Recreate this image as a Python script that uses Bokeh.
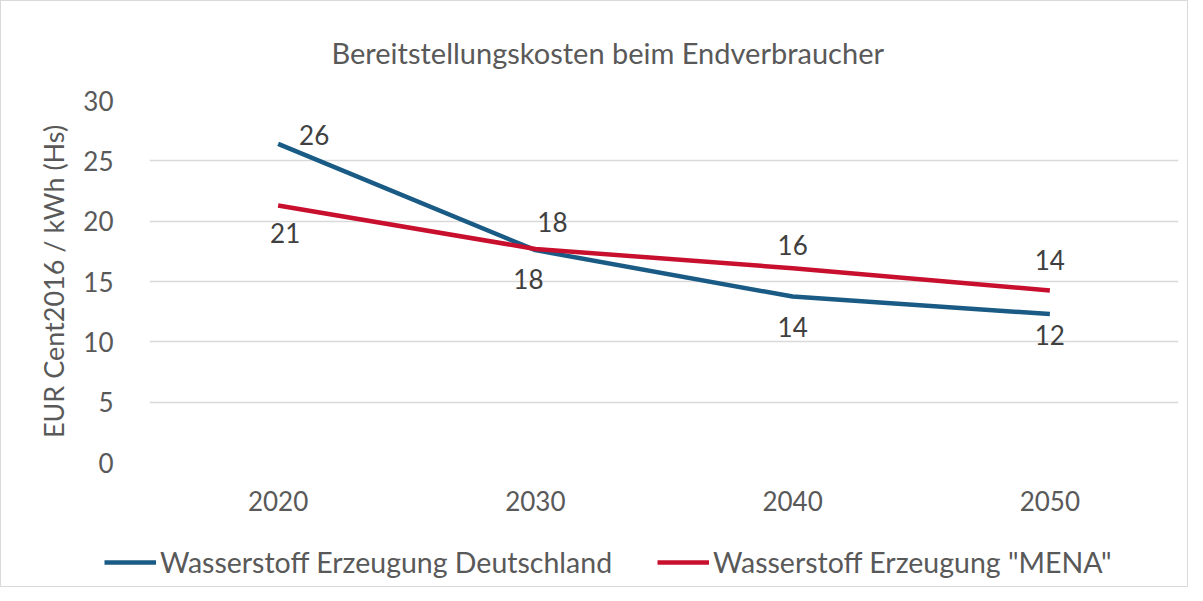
from bokeh.plotting import figure
from bokeh.models import ColumnDataSource, Legend, LegendItem, Range1d
from bokeh.layouts import column
from bokeh.core.properties import value
from bokeh.embed import file_html
from bokeh.resources import INLINE

years = ["2020", "2030", "2040", "2050"]
de_values = [26.4, 17.6, 13.75, 12.3]
mena_values = [21.3, 17.7, 16.1, 14.25]
de_labels = ["26", "18", "14", "12"]
mena_labels = ["21", "18", "16", "14"]
series_names = ["Wasserstoff Erzeugung Deutschland", 'Wasserstoff Erzeugung "MENA"']
title_text = "Bereitstellungskosten beim Endverbraucher"
y_label = "EUR Cent2016 / kWh (Hs)"

# label offsets (screen px) - styling only
de_dx = [36, -7, 0, 0]
de_dy = [-9, 29, 30, 21]
mena_dx = [7, 17, 0, 0]
mena_dy = [28, -27, -23, -31]

FONT = "Lato"
BLUE = "#1a5b85"
RED = "#c8102e"
GRAY = "#595959"

W = 1186
H_MAIN = 530
H_LEG = 55

p = figure(x_range=years, y_range=Range1d(0, 30), width=W, height=H_MAIN,
           output_backend="svg", toolbar_location=None,
           min_border_left=148, min_border_right=9, min_border_top=99,
           min_border_bottom=H_MAIN - 461)
p.frame_align = False
p.outline_line_color = None
p.title.text = title_text
p.title.align = "left"
p.title.offset = 182
p.title.standoff = 62
p.title.text_font = FONT
p.title.text_font_style = "normal"
p.title.text_font_size = "29px"
p.title.text_color = GRAY

p.xgrid.grid_line_color = None
p.ygrid.grid_line_color = "#d9d9d9"
p.ygrid.grid_line_width = 1.5
p.yaxis.ticker = [0, 5, 10, 15, 20, 25, 30]

for ax in (p.xaxis[0], p.yaxis[0]):
    ax.axis_line_color = None
    ax.major_tick_line_color = None
    ax.minor_tick_line_color = None
    ax.major_label_text_font = FONT
    ax.major_label_text_font_size = "26px"
    ax.major_label_text_color = GRAY
p.yaxis.major_label_standoff = 30
p.xaxis.major_label_standoff = 22
p.yaxis.axis_label = y_label
p.yaxis.axis_label_text_font = FONT
p.yaxis.axis_label_text_font_style = "normal"
p.yaxis.axis_label_text_font_size = "27px"
p.yaxis.axis_label_text_color = GRAY
p.yaxis.axis_label_standoff = 10

src_de = ColumnDataSource(dict(x=years, y=de_values, t=de_labels, dx=de_dx, dy=de_dy))
src_mena = ColumnDataSource(dict(x=years, y=mena_values, t=mena_labels, dx=mena_dx, dy=mena_dy))

line_style = dict(line_width=4.5)
p.line("x", "y", source=src_de, line_color=BLUE, **line_style)
p.line("x", "y", source=src_mena, line_color=RED, **line_style)

for src in (src_de, src_mena):
    p.text("x", "y", text="t", source=src, x_offset="dx", y_offset="dy",
           text_font=value(FONT), text_font_size="26px", text_color="#404040",
           text_align="center", text_baseline="middle")

# legend strip: a second figure whose frame fills it; the series lines in it fall outside its range
lf = figure(x_range=years, y_range=Range1d(100, 200), width=W, height=H_LEG,
            output_backend="svg", toolbar_location=None,
            x_axis_type=None, y_axis_type=None,
            min_border_left=0, min_border_right=0, min_border_top=0, min_border_bottom=0)
lf.frame_align = False
lf.outline_line_color = None
lf.grid.visible = False
l_de = lf.line("x", "y", source=src_de, line_color=BLUE, **line_style)
l_mena = lf.line("x", "y", source=src_mena, line_color=RED, **line_style)

legend = Legend(items=[LegendItem(label=series_names[0], renderers=[l_de]),
                       LegendItem(label=series_names[1], renderers=[l_mena])],
                orientation="horizontal", location=(103, 7))
legend.label_text_font = FONT
legend.label_text_font_size = "28.5px"
legend.label_text_color = GRAY
legend.glyph_width = 52
legend.glyph_height = 30
legend.label_height = 30
legend.label_standoff = 4
legend.spacing = 45
legend.padding = 0
legend.margin = 0
legend.border_line_color = None
legend.background_fill_alpha = 0
lf.add_layout(legend)

layout = column(p, lf, spacing=0)
layout.styles = {"border": "1px solid #d9d9d9"}
open("out.html", "w").write(file_html(layout, INLINE))
